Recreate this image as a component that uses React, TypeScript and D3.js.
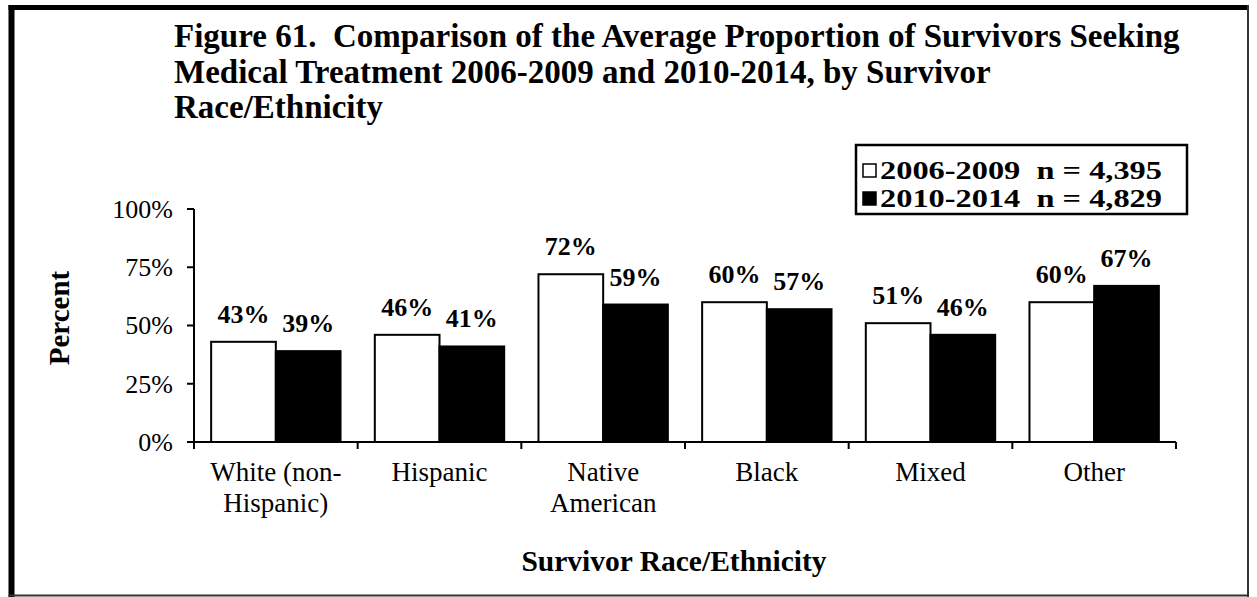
import React from "react";
import * as d3 from "d3";

const categories = ["White (non-Hispanic)", "Hispanic", "Native American", "Black", "Mixed", "Other"];
const categoryLines = [["White (non-", "Hispanic)"], ["Hispanic"], ["Native", "American"], ["Black"], ["Mixed"], ["Other"]];
const seriesNames = ["2006-2009", "2010-2014"];
const legendLabels = ["2006-2009  n = 4,395", "2010-2014  n = 4,829"];
const values2006 = [43, 46, 72, 60, 51, 60];
const values2010 = [39, 41, 59, 57, 46, 67];
const yTicks = [0, 25, 50, 75, 100];
const titleLines = [
  "Figure 61.  Comparison of the Average Proportion of Survivors Seeking",
  "Medical Treatment 2006-2009 and 2010-2014, by Survivor",
  "Race/Ethnicity",
];

const FONT = "'Liberation Serif', 'Times New Roman', serif";

export default function App() {
  const W = 1257;
  const H = 597;
  const x0 = d3.scaleBand<string>().domain(categories).range([194, 1176]).padding(0);
  const x1 = d3
    .scaleBand<string>()
    .domain(seriesNames)
    .range([0, x0.bandwidth()])
    .paddingInner(0)
    .paddingOuter(0.265);
  const y = d3.scaleLinear().domain([0, 100]).range([442, 209]);
  const series = [values2006, values2010];
  const fills = ["#fff", "#000"];

  const boundaries = categories.map((c) => x0(c)!).concat([x0.range()[1]]);

  return (
    <svg
      width={W}
      height={H}
      style={{ position: "absolute", left: 0, top: 0, display: "block", background: "#fff" }}
      fontFamily={FONT}
    >
      <rect x={0} y={0} width={W} height={H} fill="#fff" />
      {/* frame */}
      <line x1={11.5} y1={5} x2={11.5} y2={597} stroke="#000" strokeWidth={6} />
      <line x1={8.5} y1={7.5} x2={1249} y2={7.5} stroke="#000" strokeWidth={5} />
      <line x1={1248} y1={5} x2={1248} y2={597} stroke="#333" strokeWidth={2} />
      <line x1={8.5} y1={595.5} x2={1249} y2={595.5} stroke="#333" strokeWidth={2} />

      {/* title */}
      {titleLines.map((t, i) => (
        <text
          key={i}
          x={174}
          y={47 + i * 35.5}
          fontSize={33}
          fontWeight="bold"
          style={{ whiteSpace: "pre" }}
          fill="#000"
        >
          {t}
        </text>
      ))}

      {/* legend */}
      <rect x={856} y={145} width={331} height={69} fill="#fff" stroke="#000" strokeWidth={2.5} />
      {legendLabels.map((l, i) => (
        <g key={i}>
          <rect
            x={863}
            y={164 + i * 28}
            width={13}
            height={13}
            fill={fills[i]}
            stroke="#000"
            strokeWidth={1.5}
          />
          <text
            x={880}
            y={179 + i * 28}
            fontSize={25}
            fontWeight="bold"
            textLength={282}
            lengthAdjust="spacingAndGlyphs"
            style={{ whiteSpace: "pre" }}
          >
            {l}
          </text>
        </g>
      ))}

      {/* y axis */}
      <line x1={194} y1={y(0)} x2={194} y2={y(100)} stroke="#000" strokeWidth={2} />
      {yTicks.map((t) => (
        <g key={t}>
          <line x1={187} x2={194} y1={y(t)} y2={y(t)} stroke="#000" strokeWidth={2} />
          <text x={173} y={y(t)} dy="0.34em" textAnchor="end" fontSize={26}>
            {t}%
          </text>
        </g>
      ))}
      <text
        transform={`translate(69, ${318}) rotate(-90)`}
        textAnchor="middle"
        fontSize={29}
        fontWeight="bold"
      >
        Percent
      </text>

      {/* bars */}
      {categories.map((c, ci) => (
        <g key={c}>
          {series.map((s, si) => {
            const bx = x0(c)! + x1(seriesNames[si])!;
            const bw = x1.bandwidth();
            const by = y(s[ci]);
            return (
              <g key={si}>
                <rect
                  x={bx}
                  y={by}
                  width={bw}
                  height={y(0) - by}
                  fill={fills[si]}
                  stroke="#000"
                  strokeWidth={2}
                />
                <text
                  x={bx + bw / 2}
                  y={by - 19}
                  textAnchor="middle"
                  fontSize={26}
                  fontWeight="bold"
                >
                  {s[ci]}%
                </text>
              </g>
            );
          })}
        </g>
      ))}

      {/* x axis */}
      <line x1={194} x2={1176} y1={y(0)} y2={y(0)} stroke="#000" strokeWidth={2} />
      {boundaries.map((b, i) => (
        <line key={i} x1={b} x2={b} y1={y(0)} y2={y(0) + 7} stroke="#000" strokeWidth={2} />
      ))}
      {categories.map((c, ci) => (
        <text key={c} textAnchor="middle" fontSize={27}>
          {categoryLines[ci].map((ln, li) => (
            <tspan key={li} x={x0(c)! + x0.bandwidth() / 2} y={481 + li * 31}>
              {ln}
            </tspan>
          ))}
        </text>
      ))}
      <text x={674} y={571} textAnchor="middle" fontSize={29.5} fontWeight="bold">
        Survivor Race/Ethnicity
      </text>
    </svg>
  );
}
